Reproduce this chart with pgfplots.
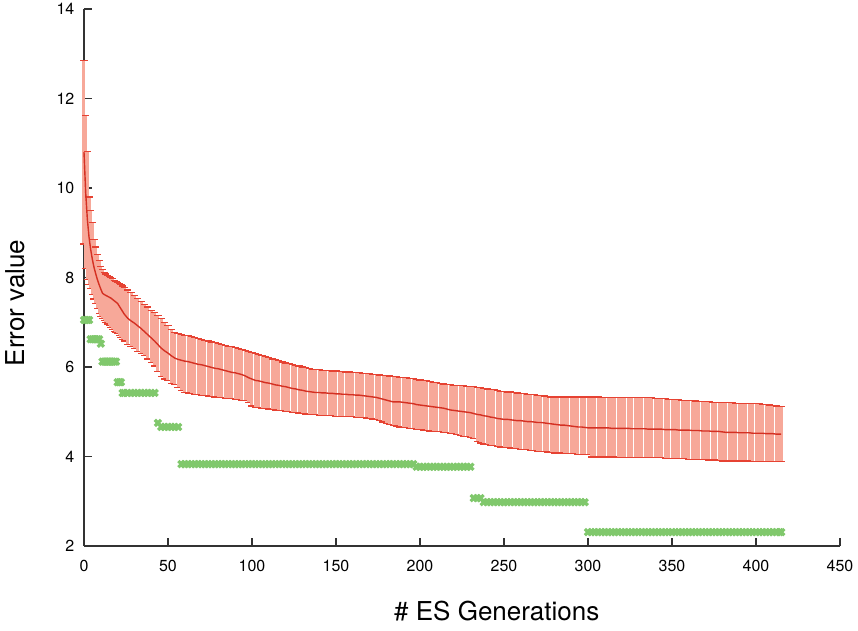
\documentclass[border=0pt]{standalone}
\usepackage{fontspec}
\setmainfont{TeX Gyre Heros}
\usepackage{pgfplots}
\usepackage{pgfplotstable}
\pgfplotsset{compat=1.18}
\definecolor{barpink}{RGB}{247,168,153}
\definecolor{capred}{RGB}{230,66,50}
\definecolor{meanred}{RGB}{212,48,34}
\definecolor{bestgreen}{RGB}{128,200,108}
\definecolor{axisgray}{RGB}{50,50,50}
\pgfplotstableread{
g mean hi lo best
0 10.80 12.85 8.75 7.05
1 9.90 11.62 8.20 7.05
2 9.30 10.82 7.95 7.05
3 8.90 9.80 7.85 7.05
4 8.62 9.50 7.75 6.62
5 8.40 9.22 7.62 6.62
6 8.22 8.85 7.52 6.62
7 8.08 8.68 7.42 6.62
8 7.95 8.52 7.30 6.62
9 7.84 8.38 7.20 6.62
10 7.74 8.25 7.12 6.52
11 7.65 8.18 7.08 6.12
12 7.62 8.12 7.04 6.12
13 7.60 8.08 7.00 6.12
14 7.58 8.05 6.96 6.12
15 7.56 8.02 6.92 6.12
16 7.54 8.00 6.88 6.12
17 7.51 7.97 6.84 6.12
18 7.48 7.94 6.80 6.12
19 7.45 7.91 6.77 6.12
20 7.42 7.88 6.74 5.66
21 7.36 7.87 6.70 5.66
22 7.30 7.85 6.66 5.66
23 7.24 7.81 6.62 5.42
24 7.18 7.78 6.58 5.42
26 7.09 7.72 6.51 5.42
28 7.03 7.66 6.46 5.42
30 6.98 7.59 6.41 5.42
32 6.92 7.53 6.35 5.42
34 6.86 7.46 6.30 5.42
36 6.79 7.40 6.25 5.42
38 6.72 7.34 6.18 5.42
40 6.65 7.27 6.10 5.42
42 6.58 7.21 6.02 5.42
44 6.50 7.15 5.90 4.75
46 6.42 7.08 5.78 4.66
48 6.36 7.00 5.73 4.66
50 6.31 6.92 5.69 4.66
52 6.25 6.84 5.64 4.66
54 6.20 6.77 5.60 4.66
56 6.17 6.74 5.55 4.66
58 6.15 6.72 5.48 3.83
60 6.13 6.71 5.43 3.83
62 6.12 6.70 5.42 3.83
64 6.10 6.68 5.41 3.83
66 6.08 6.66 5.39 3.83
68 6.06 6.64 5.38 3.83
70 6.05 6.62 5.37 3.83
72 6.03 6.60 5.36 3.83
74 6.01 6.58 5.35 3.83
76 5.99 6.56 5.34 3.83
78 5.97 6.54 5.33 3.83
80 5.96 6.52 5.32 3.83
82 5.94 6.50 5.31 3.83
84 5.92 6.48 5.30 3.83
86 5.90 6.46 5.30 3.83
88 5.88 6.45 5.29 3.83
90 5.87 6.43 5.28 3.83
92 5.85 6.41 5.27 3.83
94 5.83 6.39 5.26 3.83
96 5.80 6.37 5.25 3.83
98 5.76 6.35 5.20 3.83
100 5.73 6.32 5.13 3.83
102 5.70 6.30 5.10 3.83
104 5.69 6.28 5.09 3.83
106 5.67 6.25 5.08 3.83
108 5.65 6.23 5.07 3.83
110 5.64 6.21 5.06 3.83
112 5.62 6.18 5.05 3.83
114 5.60 6.16 5.04 3.83
116 5.59 6.14 5.03 3.83
118 5.57 6.11 5.02 3.83
120 5.56 6.09 5.01 3.83
122 5.54 6.07 5.00 3.83
124 5.52 6.06 4.99 3.83
126 5.51 6.04 4.98 3.83
128 5.49 6.02 4.97 3.83
130 5.48 6.00 4.96 3.83
132 5.46 5.99 4.95 3.83
134 5.45 5.97 4.94 3.83
136 5.44 5.95 4.93 3.83
138 5.43 5.94 4.93 3.83
140 5.43 5.94 4.92 3.83
142 5.42 5.93 4.92 3.83
144 5.42 5.93 4.91 3.83
146 5.41 5.92 4.91 3.83
148 5.41 5.91 4.91 3.83
150 5.40 5.91 4.90 3.83
152 5.40 5.90 4.90 3.83
154 5.39 5.90 4.90 3.83
156 5.39 5.89 4.89 3.83
158 5.38 5.89 4.89 3.83
160 5.38 5.88 4.89 3.83
162 5.37 5.88 4.88 3.83
164 5.37 5.87 4.88 3.83
166 5.36 5.86 4.87 3.83
168 5.35 5.85 4.86 3.83
170 5.34 5.85 4.85 3.83
172 5.33 5.84 4.84 3.83
174 5.32 5.83 4.82 3.83
176 5.30 5.82 4.80 3.83
178 5.28 5.81 4.77 3.83
180 5.26 5.81 4.74 3.83
182 5.24 5.80 4.72 3.83
184 5.22 5.79 4.70 3.83
186 5.22 5.78 4.68 3.83
188 5.22 5.77 4.66 3.83
190 5.21 5.77 4.65 3.83
192 5.20 5.76 4.64 3.83
194 5.19 5.75 4.63 3.83
196 5.18 5.74 4.62 3.83
198 5.16 5.72 4.61 3.77
200 5.15 5.71 4.60 3.77
202 5.14 5.70 4.59 3.77
204 5.13 5.69 4.58 3.77
206 5.12 5.67 4.57 3.77
208 5.11 5.66 4.56 3.77
210 5.10 5.65 4.56 3.77
212 5.09 5.64 4.55 3.77
214 5.08 5.62 4.54 3.77
216 5.06 5.61 4.53 3.77
218 5.04 5.60 4.52 3.77
220 5.03 5.59 4.51 3.77
222 5.02 5.59 4.49 3.77
224 5.01 5.58 4.47 3.77
226 5.00 5.58 4.45 3.77
228 4.99 5.57 4.44 3.77
230 4.98 5.56 4.42 3.77
232 4.96 5.56 4.40 3.07
234 4.94 5.55 4.34 3.07
236 4.93 5.54 4.30 3.07
238 4.91 5.52 4.28 2.98
240 4.90 5.51 4.27 2.98
242 4.88 5.50 4.25 2.98
244 4.87 5.49 4.24 2.98
246 4.85 5.47 4.22 2.98
248 4.84 5.46 4.21 2.98
250 4.83 5.45 4.20 2.98
252 4.83 5.44 4.20 2.98
254 4.82 5.44 4.19 2.98
256 4.81 5.43 4.18 2.98
258 4.80 5.42 4.17 2.98
260 4.80 5.41 4.16 2.98
262 4.79 5.40 4.16 2.98
264 4.78 5.39 4.15 2.98
266 4.78 5.38 4.14 2.98
268 4.77 5.38 4.13 2.98
270 4.76 5.37 4.12 2.98
272 4.76 5.36 4.12 2.98
274 4.75 5.35 4.11 2.98
276 4.74 5.34 4.10 2.98
278 4.73 5.33 4.09 2.98
280 4.72 5.33 4.08 2.98
282 4.71 5.33 4.08 2.98
284 4.70 5.33 4.08 2.98
286 4.70 5.33 4.07 2.98
288 4.69 5.33 4.07 2.98
290 4.68 5.33 4.06 2.98
292 4.67 5.33 4.06 2.98
294 4.66 5.33 4.05 2.98
296 4.66 5.33 4.05 2.98
298 4.65 5.33 4.04 2.98
300 4.64 5.33 4.04 2.31
302 4.64 5.33 3.99 2.31
304 4.64 5.33 3.99 2.31
306 4.64 5.33 3.99 2.31
308 4.64 5.32 3.99 2.31
310 4.64 5.32 3.99 2.31
312 4.64 5.32 3.99 2.31
314 4.63 5.32 3.99 2.31
316 4.63 5.32 3.99 2.31
318 4.63 5.32 3.98 2.31
320 4.63 5.32 3.98 2.31
322 4.63 5.32 3.98 2.31
324 4.63 5.32 3.98 2.31
326 4.62 5.32 3.98 2.31
328 4.62 5.32 3.98 2.31
330 4.62 5.32 3.98 2.31
332 4.62 5.32 3.98 2.31
334 4.62 5.32 3.98 2.31
336 4.61 5.31 3.97 2.31
338 4.61 5.31 3.97 2.31
340 4.61 5.30 3.97 2.31
342 4.61 5.30 3.97 2.31
344 4.61 5.29 3.97 2.31
346 4.60 5.29 3.96 2.31
348 4.60 5.28 3.96 2.31
350 4.60 5.28 3.96 2.31
352 4.60 5.27 3.95 2.31
354 4.59 5.27 3.95 2.31
356 4.59 5.26 3.95 2.31
358 4.59 5.26 3.95 2.31
360 4.59 5.25 3.94 2.31
362 4.58 5.25 3.94 2.31
364 4.58 5.24 3.94 2.31
366 4.58 5.23 3.93 2.31
368 4.57 5.23 3.93 2.31
370 4.57 5.22 3.93 2.31
372 4.57 5.22 3.92 2.31
374 4.56 5.21 3.92 2.31
376 4.56 5.21 3.92 2.31
378 4.56 5.20 3.91 2.31
380 4.55 5.20 3.90 2.31
382 4.54 5.20 3.90 2.31
384 4.54 5.20 3.90 2.31
386 4.54 5.20 3.90 2.31
388 4.54 5.19 3.90 2.31
390 4.53 5.19 3.90 2.31
392 4.53 5.19 3.90 2.31
394 4.53 5.19 3.90 2.31
396 4.53 5.18 3.90 2.31
398 4.52 5.18 3.89 2.31
400 4.52 5.18 3.89 2.31
402 4.52 5.18 3.89 2.31
404 4.52 5.17 3.89 2.31
406 4.51 5.16 3.89 2.31
408 4.51 5.15 3.89 2.31
410 4.51 5.14 3.89 2.31
412 4.50 5.13 3.88 2.31
414 4.50 5.12 3.88 2.31
415 4.50 5.11 3.88 2.31
}\datatable
\begin{document}
\begin{tikzpicture}
\path[use as bounding box] (-42pt,-42.5pt) rectangle (387pt,273pt);
\begin{axis}[
  at={(0,0)}, anchor=south west,
  scale only axis, width=378pt, height=268.5pt,
  xmin=0, xmax=450, ymin=2, ymax=14,
  xtick={0,50,...,450}, ytick={2,4,...,14},
  axis lines=left,
  axis line style={-, draw=axisgray, line width=0.8pt},
  tick style={draw=axisgray, line width=0.8pt},
  tick align=inside, major tick length=4pt,
  clip=false,
  /pgf/number format/assume math mode=true,
  ticklabel style={font=\fontsize{8}{9}\selectfont},
  yticklabel style={xshift=-1.3pt},
  xticklabel style={yshift=-3.3pt},
  xlabel={\# ES Generations},
  ylabel={Error value},
  label style={font=\fontsize{13}{15}\selectfont},
  xlabel style={at={(axis description cs:0.546,0)}, anchor=center, yshift=-32.5pt},
  ylabel style={at={(axis description cs:0,0.4525)}, anchor=center, rotate=0, yshift=34.5pt},
]
\addplot[draw=none, mark=none,
  error bars/.cd, y dir=both, y explicit,
  error bar style={draw=barpink, line width=1.5pt},
  error mark options={rotate=90, draw=capred, line width=0.6pt, mark size=1.8pt}]
  table[x=g, y=mean,
        y error plus expr=\thisrow{hi}-\thisrow{mean},
        y error minus expr=\thisrow{mean}-\thisrow{lo}] {\datatable};
\addplot[meanred, line width=0.7pt, mark=none] table[x=g, y=mean] {\datatable};
\addplot[only marks, mark=x, mark size=2.2pt, bestgreen,
  mark options={line width=1.6pt}] table[x=g, y=best] {\datatable};
\end{axis}
\end{tikzpicture}
\end{document}
